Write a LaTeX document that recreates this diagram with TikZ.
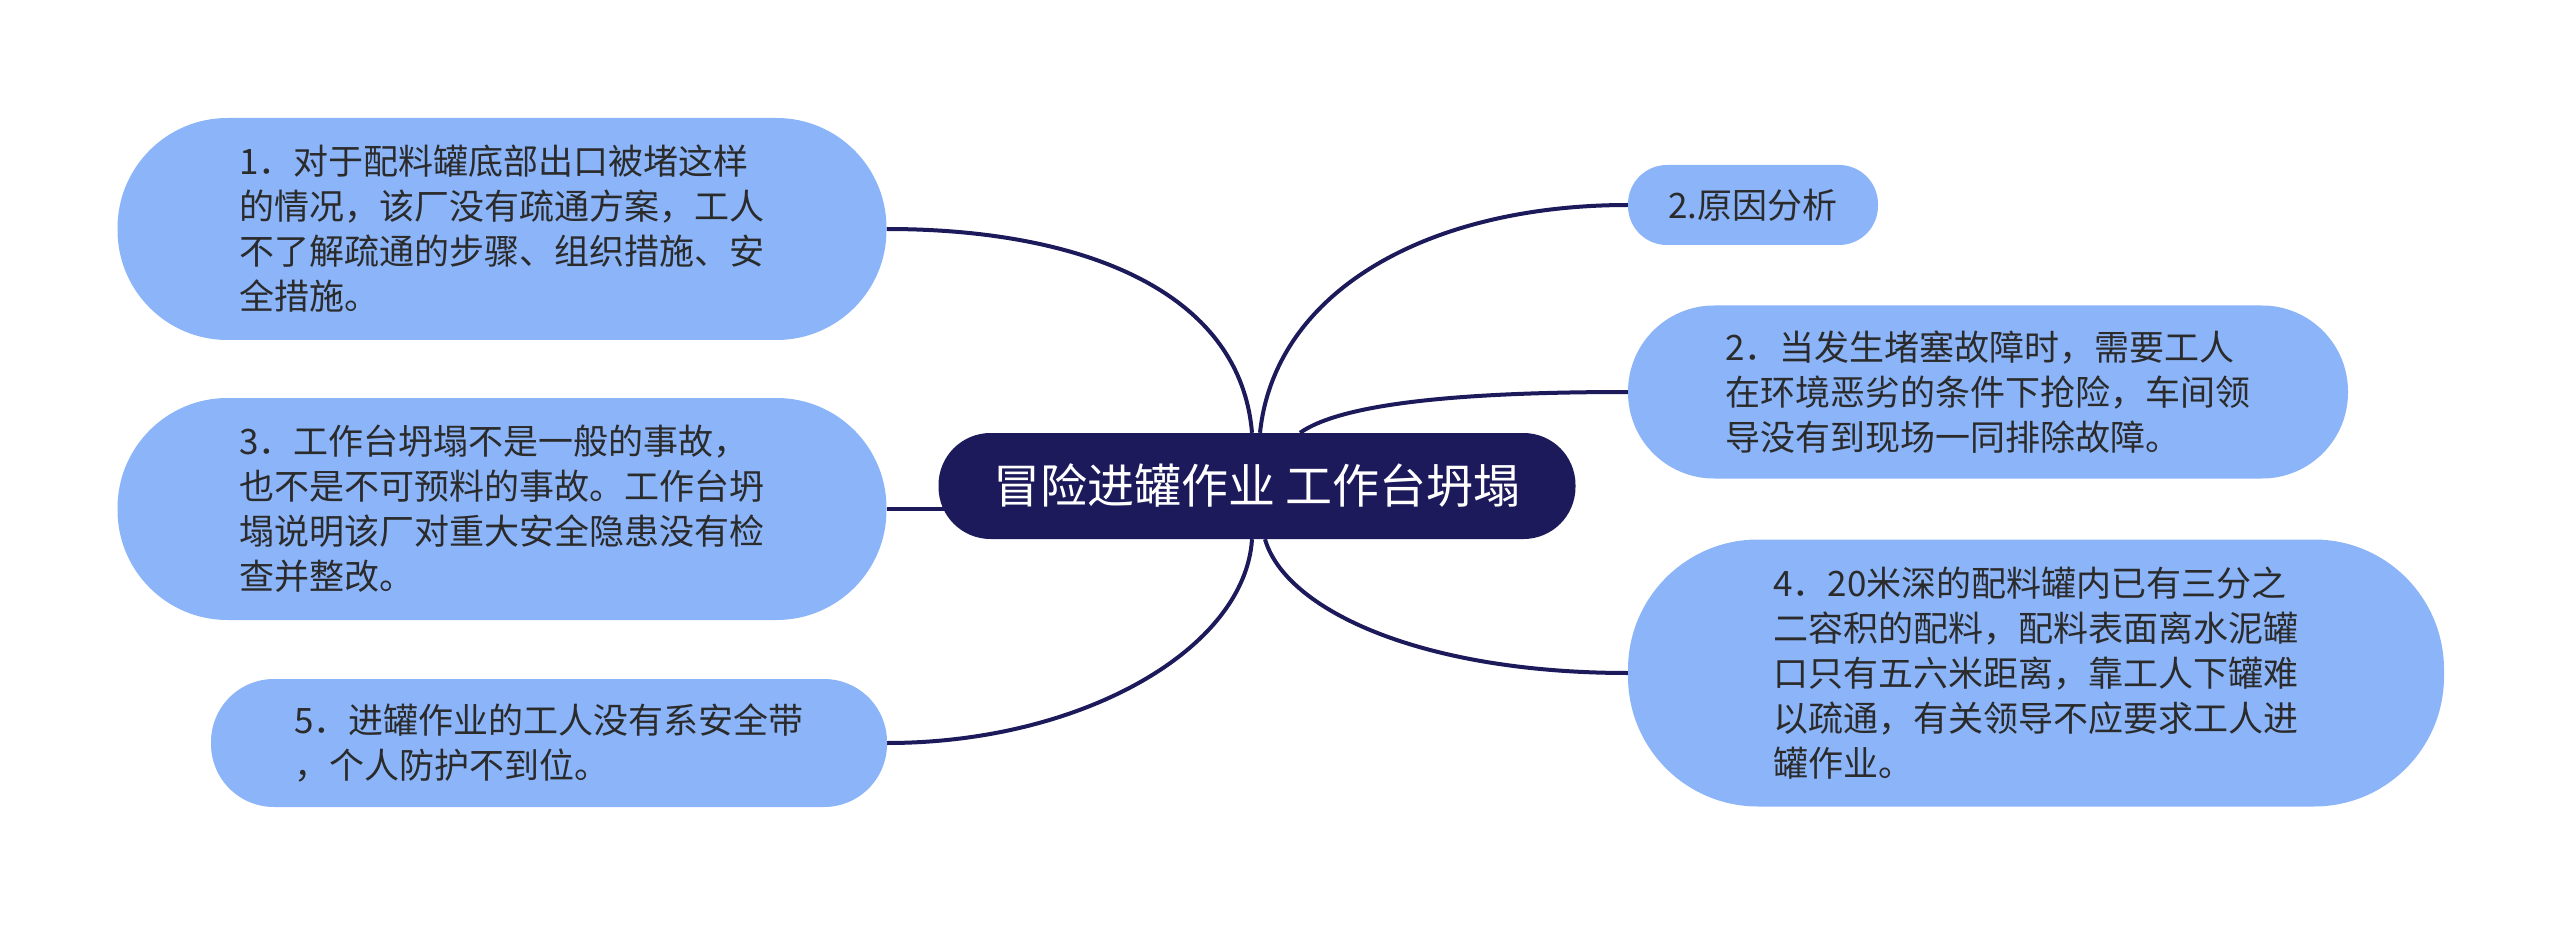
\documentclass[tikz,border=0pt]{standalone}
\usepackage{fontspec}
\setmainfont{Noto Sans CJK SC}
\usetikzlibrary{backgrounds}
\definecolor{navy}{HTML}{1C1A5B}
\definecolor{leaf}{HTML}{8BB4F9}
\definecolor{txt}{HTML}{2B2B2B}
\tikzset{
  leafbox/.style={fill=leaf, inner sep=0pt, text=txt, align=left,
    font=\fontsize{35}{45}\selectfont},
  rootbox/.style={fill=navy, inner sep=0pt, text=white, align=center,
    font=\fontsize{47}{54}\selectfont},
  link/.style={draw=navy, line width=4pt}
}
\begin{document}
\begin{tikzpicture}[x=1pt,y=-1pt]
\useasboundingbox (0,0) rectangle (2560,925);
\node[rootbox, minimum width=637pt, minimum height=106pt, rounded corners=52pt] (root) at (1257,486) {冒险进罐作业 工作台坍塌};
\node[leafbox, minimum width=769pt, minimum height=222pt, rounded corners=110pt] (n1) at (502,229)
  {1．对于配料罐底部出口被堵这样\\的情况，该厂没有疏通方案，工人\\不了解疏通的步骤、组织措施、安\\全措施。};
\node[leafbox, minimum width=769pt, minimum height=222pt, rounded corners=110pt] (n3) at (502,509)
  {3．工作台坍塌不是一般的事故，\\也不是不可预料的事故。工作台坍\\塌说明该厂对重大安全隐患没有检\\查并整改。};
\node[leafbox, minimum width=676pt, minimum height=128pt, rounded corners=63pt] (n5) at (549,743)
  {5．进罐作业的工人没有系安全带\\，个人防护不到位。};
\node[leafbox, minimum width=250pt, minimum height=80pt, rounded corners=39pt] (n2) at (1753,205)
  {2.原因分析};
\node[leafbox, minimum width=720pt, minimum height=173pt, rounded corners=86pt] (r2) at (1988,392)
  {2．当发生堵塞故障时，需要工人\\在环境恶劣的条件下抢险，车间领\\导没有到现场一同排除故障。};
\node[leafbox, minimum width=816pt, minimum height=267pt, rounded corners=130pt] (n4) at (2036,673)
  {4．20米深的配料罐内已有三分之\\二容积的配料，配料表面离水泥罐\\口只有五六米距离，靠工人下罐难\\以疏通，有关领导不应要求工人进\\罐作业。};
\begin{scope}[on background layer]
\fill[white] (0,0) rectangle (2560,925);
\draw[link] ([xshift=-5pt]root.north) .. controls +(-12,-143) and +(193,0) .. (n1.east);
\draw[link] ([xshift=3pt]root.north) .. controls +(15,-143) and +(-198,0) .. (n2.west);
\draw[link] ([xshift=43pt]root.north) .. controls +(40,-28) and +(-178,0) .. (r2.west);
\draw[link] ([xshift=8pt]root.south) .. controls +(20,70) and +(-208,0) .. (n4.west);
\draw[link] ([xshift=-5pt]root.south) .. controls +(-7,110) and +(194,0) .. (n5.east);
\draw[link] (n3.east) -- (n3.east -| root.center);
\end{scope}
\end{tikzpicture}
\end{document}
